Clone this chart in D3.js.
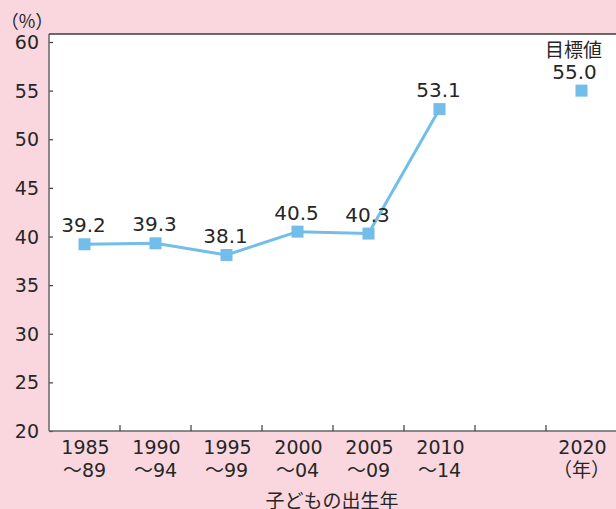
<!DOCTYPE html>
<html>
<head>
<meta charset="utf-8">
<script src="https://cdn.jsdelivr.net/npm/d3@7"></script>
<style>
  body { margin: 0; background: #fad7df; }
  text { font-family: "DejaVu Sans", "Noto Sans CJK JP", sans-serif; fill: #262626; }
</style>
</head>
<body>
<svg></svg>
<script>
// periods of birth (two-line tick labels), one empty slot before the target year
const startYears = ["1985", "1990", "1995", "2000", "2005", "2010", "", "2020"];
const endYears = ["～89", "～94", "～99", "～04", "～09", "～14", "", "（年）"];
const rates = [39.2, 39.3, 38.1, 40.5, 40.3, 53.1];
const targetValue = 55.0;
const targetIndex = 7;
const yTicks = [20, 25, 30, 35, 40, 45, 50, 55, 60];

const svgWidth = 616;
const svgHeight = 509;
const plotLeft = 49, plotRight = 617, plotTop = 34, plotBottom = 431;
const lineColor = "#72bde9";
const axisColor = "#3c3c3c";

const svg = d3.select("svg")
  .attr("width", svgWidth)
  .attr("height", svgHeight);

svg.append("rect")
  .attr("width", svgWidth).attr("height", svgHeight)
  .attr("fill", "#fad7df");

svg.append("rect")
  .attr("x", plotLeft).attr("y", plotTop)
  .attr("width", svgWidth - plotLeft).attr("height", plotBottom - plotTop)
  .attr("fill", "#fff");

const xScale = d3.scaleBand()
  .domain(d3.range(startYears.length))
  .range([plotLeft, plotRight])
  .padding(0);

const yScale = d3.scaleLinear()
  .domain([20, 60])
  .range([plotBottom, 42]);

const cx = i => xScale(i) + xScale.bandwidth() / 2;

// y axis (ticks point inward)
const y_axis = d3.axisRight(yScale).tickValues(yTicks).tickSize(4).tickFormat("");
const yg = svg.append("g")
  .attr("transform", "translate(" + plotLeft + ",0)")
  .call(y_axis);
yg.select(".domain").remove();
yg.selectAll(".tick line").attr("stroke", axisColor).attr("stroke-width", 1.2);

svg.selectAll(".ylab")
  .data(yTicks)
  .enter()
  .append("text")
  .attr("class", "ylab")
  .attr("x", 39)
  .attr("y", d => yScale(d) + 7)
  .attr("text-anchor", "end")
  .attr("font-size", 19)
  .text(d => d);

// axis frame lines
svg.append("line")
  .attr("x1", plotLeft).attr("x2", plotLeft).attr("y1", plotTop).attr("y2", plotBottom)
  .attr("stroke", "#666").attr("stroke-width", 1.5);
svg.append("line")
  .attr("x1", plotLeft).attr("x2", svgWidth).attr("y1", plotTop).attr("y2", plotTop)
  .attr("stroke", axisColor).attr("stroke-width", 1.5);
svg.append("line")
  .attr("x1", plotLeft).attr("x2", svgWidth).attr("y1", plotBottom).attr("y2", plotBottom)
  .attr("stroke", "#666").attr("stroke-width", 1.5);

// x ticks at band boundaries, pointing up
svg.selectAll(".xtick")
  .data(d3.range(1, startYears.length))
  .enter()
  .append("line")
  .attr("x1", i => xScale(i)).attr("x2", i => xScale(i))
  .attr("y1", plotBottom).attr("y2", plotBottom - 6)
  .attr("stroke", axisColor).attr("stroke-width", 1.2);

const xl = svg.selectAll(".xlab")
  .data(d3.range(startYears.length))
  .enter()
  .append("text")
  .attr("class", "xlab")
  .attr("text-anchor", "middle")
  .attr("font-size", 19);
xl.append("tspan").attr("x", i => cx(i) + 1).attr("y", 454).text(i => startYears[i]);
xl.append("tspan").attr("x", i => cx(i)).attr("y", 477).text(i => endYears[i]);

// axis title, partly cut by the bottom edge as in the source
svg.append("text")
  .attr("x", 332).attr("y", 508)
  .attr("text-anchor", "middle")
  .attr("font-size", 19)
  .style("font-family", "'Noto Sans CJK JP'")
  .text("子どもの出生年");

svg.append("text")
  .attr("x", 27).attr("y", 28)
  .attr("text-anchor", "middle")
  .attr("font-size", 18)
  .style("font-family", "'Noto Sans CJK JP'")
  .text("（%）");

// line
const line = d3.line()
  .x((d, i) => cx(i))
  .y(d => yScale(d));

svg.append("path")
  .datum(rates)
  .attr("d", line)
  .attr("fill", "none")
  .attr("stroke", lineColor)
  .attr("stroke-width", 3);

const ms = 12;
svg.selectAll(".pt")
  .data(rates)
  .enter()
  .append("rect")
  .attr("class", "pt")
  .attr("x", (d, i) => cx(i) - ms / 2)
  .attr("y", d => yScale(d) - ms / 2)
  .attr("width", ms).attr("height", ms)
  .attr("fill", lineColor);

svg.selectAll(".vlab")
  .data(rates)
  .enter()
  .append("text")
  .attr("class", "vlab")
  .attr("x", (d, i) => cx(i) - 1)
  .attr("y", d => yScale(d) - 12)
  .attr("text-anchor", "middle")
  .attr("font-size", 20)
  .text(d => d.toFixed(1));

// target point
svg.append("rect")
  .attr("x", cx(targetIndex) - ms / 2)
  .attr("y", yScale(targetValue) - ms / 2)
  .attr("width", ms).attr("height", ms)
  .attr("fill", lineColor);

svg.append("text")
  .attr("x", cx(targetIndex) - 7)
  .attr("y", yScale(targetValue) - 12)
  .attr("text-anchor", "middle")
  .attr("font-size", 20)
  .text(targetValue.toFixed(1));

svg.append("text")
  .attr("x", cx(targetIndex) - 8)
  .attr("y", yScale(targetValue) - 34)
  .attr("text-anchor", "middle")
  .attr("font-size", 19)
  .style("font-family", "'Noto Sans CJK JP'")
  .text("目標値");
</script>
</body>
</html>
